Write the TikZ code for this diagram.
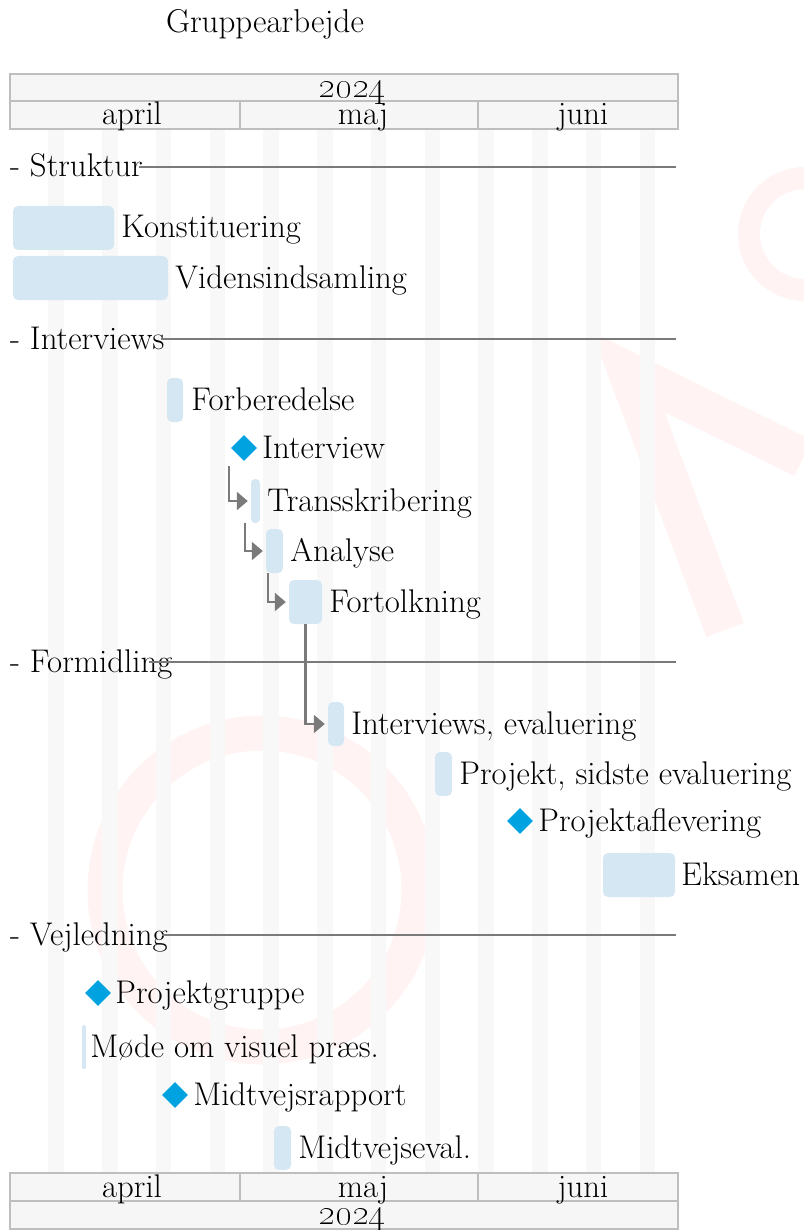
\documentclass[tikz,border=0pt]{standalone}
\usepackage{tikz}
\usetikzlibrary{positioning}
\usetikzlibrary{shapes.geometric}
\usetikzlibrary{arrows.meta}

\definecolor{barblue}{HTML}{D6E7F4}
\definecolor{msblue}{HTML}{00A3E0}
\definecolor{linkgray}{HTML}{7A7A7A}
\definecolor{hdrfill}{HTML}{F6F6F6}
\definecolor{hdrline}{HTML}{BEBEBE}
\definecolor{wkend}{HTML}{F8F8F8}
\definecolor{wmark}{HTML}{FFF3F3}

\newcommand{\yearnum}{\scalebox{1.25}{\oldstylenums{2024}}}

\tikzset{
  bar/.style={fill=barblue, rounded corners=5pt, minimum height=44pt, inner sep=0pt},
  ms/.style={diamond, fill=msblue, minimum width=26pt, minimum height=26pt, inner sep=0pt},
  lbl/.style={inner sep=0pt, text height=20pt, text depth=0pt},
  grpline/.style={draw=linkgray, line width=2pt},
  link/.style={draw=linkgray, line width=2.3pt, -{Triangle[length=11pt,width=18pt]}},
  hcell/.style={draw=hdrline, fill=hdrfill, line width=1.5pt},
}

\begin{document}
\begin{tikzpicture}[x=1pt, y=-1pt, font=\fontsize{32.8pt}{40pt}\selectfont]
\useasboundingbox (0,0) rectangle (803,1230);

% watermark
\draw[wmark, line width=35pt] (262,890) circle (157);
\draw[wmark, line width=22pt] (805,178) arc[start angle=270, end angle=90, radius=56];
\draw[wmark, line width=40pt, line join=miter] (803,458) -- (628,372) -- (725,630);

% weekends
\foreach \k in {0,...,11}
  \fill[wkend] ({48.4+53.76*\k},130) rectangle ++(15.4,1043);

\coordinate (rend) at (676,0);

\node[anchor=base, font=\fontsize{33pt}{40pt}\selectfont] (title) at (265,33) {Gruppearbejde};

% header top
\draw[hcell] (10,74) rectangle (678,101);
\draw[hcell] (10,101) rectangle (240,129);
\draw[hcell] (240,101) rectangle (478,129);
\draw[hcell] (478,101) rectangle (678,129);
\node[anchor=base, inner sep=0pt] (yeartop) at (352,98) {\yearnum};
\node[anchor=base, inner sep=0pt] (aprtop) at (132,125) {april};
\node[anchor=base, inner sep=0pt] (majtop) at (363,125) {maj};
\node[anchor=base, inner sep=0pt] (juntop) at (583,125) {juni};

% header bottom
\draw[hcell] (10,1173) rectangle (240,1201);
\draw[hcell] (240,1173) rectangle (478,1201);
\draw[hcell] (478,1173) rectangle (678,1201);
\draw[hcell] (10,1201) rectangle (678,1229);
\node[anchor=base, inner sep=0pt] (aprbot) at (132,1197) {april};
\node[anchor=base, inner sep=0pt] (majbot) at (363,1197) {maj};
\node[anchor=base, inner sep=0pt] (junbot) at (583,1197) {juni};
\node[anchor=base, inner sep=0pt] (yearbot) at (352,1224) {\yearnum};

% Struktur
\node[lbl, anchor=west] (struktur) at (10,167) {- Struktur};
\draw[grpline] ([xshift=-4pt]struktur.east) -- (struktur.east -| rend);
\node[bar, minimum width=101pt] (konst) at (63.5,228) {};
\node[lbl, right=7pt of konst] (konst-l) {Konstituering};
\node[bar, minimum width=155pt] (viden) at (90.5,278) {};
\node[lbl, right=7pt of viden] (viden-l) {Vidensindsamling};

% Interviews
\node[lbl, anchor=west] (interviews) at (10,339) {- Interviews};
\draw[grpline] ([xshift=-4pt]interviews.east) -- (interviews.east -| rend);
\node[bar, minimum width=16pt] (forb) at (175,400) {};
\node[lbl, right=8pt of forb] (forb-l) {Forberedelse};
\node[ms] (iv) at (244,448) {};
\node[lbl, right=5pt of iv] (iv-l) {Interview};
\node[bar, minimum width=9pt, rounded corners=4pt] (trans) at (255.5,501) {};
\node[lbl, right=7pt of trans] (trans-l) {Transskribering};
\node[bar, minimum width=17pt] (ana) at (274.5,551) {};
\node[lbl, right=7pt of ana] (ana-l) {Analyse};
\node[bar, minimum width=33pt] (fort) at (305.5,602) {};
\node[lbl, right=7pt of fort] (fort-l) {Fortolkning};

% Formidling
\node[lbl, anchor=west] (formidling) at (10,662) {- Formidling};
\draw[grpline] ([xshift=-24pt]formidling.east) -- (formidling.east -| rend);
\node[bar, minimum width=16pt] (ieval) at (336,724) {};
\node[lbl, right=7pt of ieval] (ieval-l) {Interviews, evaluering};
\node[bar, minimum width=17pt] (psev) at (443.5,774) {};
\node[lbl, right=7pt of psev] (psev-l) {Projekt, sidste evaluering};
\node[ms] (aflev) at (520,821) {};
\node[lbl, right=5pt of aflev] (aflev-l) {Projektaflevering};
\node[bar, minimum width=72pt] (eks) at (639,875) {};
\node[lbl, right=6pt of eks] (eks-l) {Eksamen};

% Vejledning
\node[lbl, anchor=west] (vejledning) at (10,935) {- Vejledning};
\draw[grpline] ([xshift=-6pt]vejledning.east) -- (vejledning.east -| rend);
\node[ms] (pgrp) at (98,993) {};
\node[lbl, right=4pt of pgrp] (pgrp-l) {Projektgruppe};
\node[bar, minimum width=4pt, rounded corners=1.5pt] (mode) at (84,1047) {};
\node[lbl, right=4pt of mode] (mode-l) {Møde om visuel præs.};
\node[ms] (mvrap) at (175,1095) {};
\node[lbl, right=5pt of mvrap] (mvrap-l) {Midtvejsrapport};
\node[bar, minimum width=17pt] (mveval) at (282.5,1148) {};
\node[lbl, right=7pt of mveval] (mveval-l) {Midtvejseval.};

% links
\draw[link] ([xshift=-15pt,yshift=-5pt]iv.south) |- ([xshift=-3pt]trans.west);
\draw[link] ([xshift=-10.5pt]trans.south) |- ([xshift=-3pt]ana.west);
\draw[link] ([xshift=-6.5pt]ana.south) |- ([xshift=-3pt]fort.west);
\draw[link] (fort.south) |- ([xshift=-3pt]ieval.west);
\end{tikzpicture}
\end{document}
